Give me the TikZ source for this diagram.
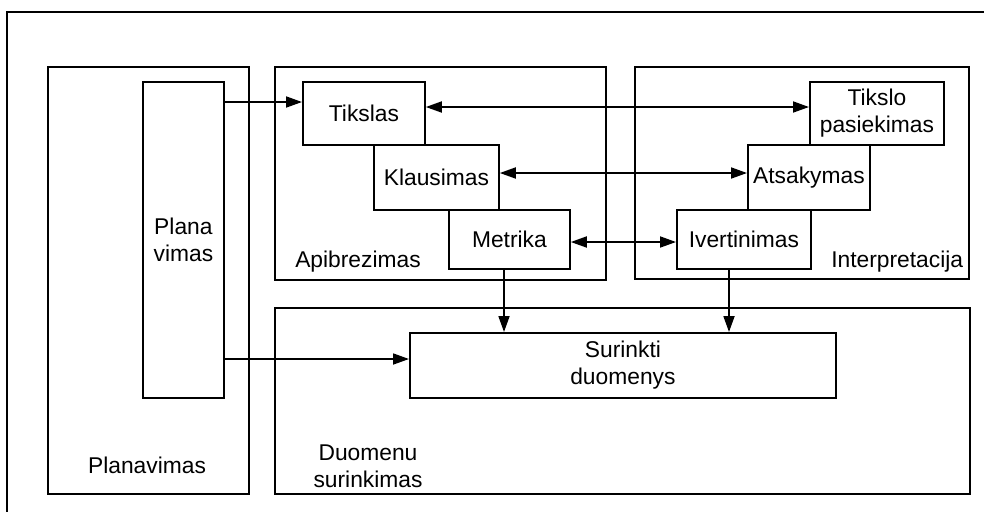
\documentclass[tikz,border=0pt]{standalone}
\usepackage{fontspec}
\setmainfont{Liberation Sans}
\usetikzlibrary{arrows.meta}
\begin{document}
\begin{tikzpicture}[x=1pt,y=-1pt,
  line width=1.8pt,
  every node/.style={font=\fontsize{22.8}{27}\selectfont},
  blk/.style={draw,rectangle,anchor=north west,inner sep=0pt,align=center},
  lbl/.style={inner sep=0pt,align=center},
  arr/.style={-{Triangle[length=16pt,width=11pt]}},
  darr/.style={{Triangle[length=16pt,width=11pt]}-{Triangle[length=16pt,width=11pt]}}]
\useasboundingbox (0,0) rectangle (984,512);

% outer frame (top and left edges only)
\draw (984,12) -- (7,12) -- (7,512);

% phase containers
\node[blk,minimum width=201pt,minimum height=427pt] (plan) at (47,66) {};
\node[blk,minimum width=331pt,minimum height=213pt] (apib) at (274,66) {};
\node[blk,minimum width=334pt,minimum height=212pt] (interp) at (634,66) {};
\node[blk,minimum width=695pt,minimum height=186pt] (duom) at (274,307) {};

% container captions
\node[lbl] (planL) at (147,465) {Planavimas};
\node[lbl] (apibL) at (358,262) {Apibrezimas};
\node[lbl,anchor=east] (interpL) at (964,262) {Interpretacija};
\node[lbl] (duomL) at (368,466) {Duomenu\\surinkimas};

% inner steps
\node[blk,minimum width=81pt,minimum height=316pt] (planav) at (142,81) {Plana\\vimas};
\node[blk,minimum width=122pt,minimum height=63pt] (tikslas) at (302,81) {Tikslas};
\node[blk,minimum width=125pt,minimum height=65pt] (klaus) at (373,144) {Klausimas};
\node[blk,minimum width=121pt,minimum height=59pt] (metr) at (448,209) {Metrika};
\node[blk,minimum width=134pt,minimum height=63pt] (tpas) at (809,81) {Tikslo\\pasiekimas};
\node[blk,minimum width=122pt,minimum height=65pt] (ats) at (747,144) {Atsakymas};
\node[blk,minimum width=134pt,minimum height=59pt] (ivert) at (676,209) {Ivertinimas};
\node[blk,minimum width=426pt,minimum height=65pt] (surink) at (409,332) {Surinkti\\duomenys};

% connectors
\draw[arr] (planav.east |- 0,102) -- (tikslas.west |- 0,102);
\draw[arr] (planav.east |- 0,359) -- (surink.west |- 0,359);
\draw[darr] (tikslas.east |- 0,107) -- (tpas.west |- 0,107);
\draw[darr] (klaus.east |- 0,173) -- (ats.west |- 0,173);
\draw[darr] (metr.east |- 0,242) -- (ivert.west |- 0,242);
\draw[arr] (metr.south -| 504,0) -- (surink.north -| 504,0);
\draw[arr] (ivert.south -| 729,0) -- (surink.north -| 729,0);
\end{tikzpicture}
\end{document}
